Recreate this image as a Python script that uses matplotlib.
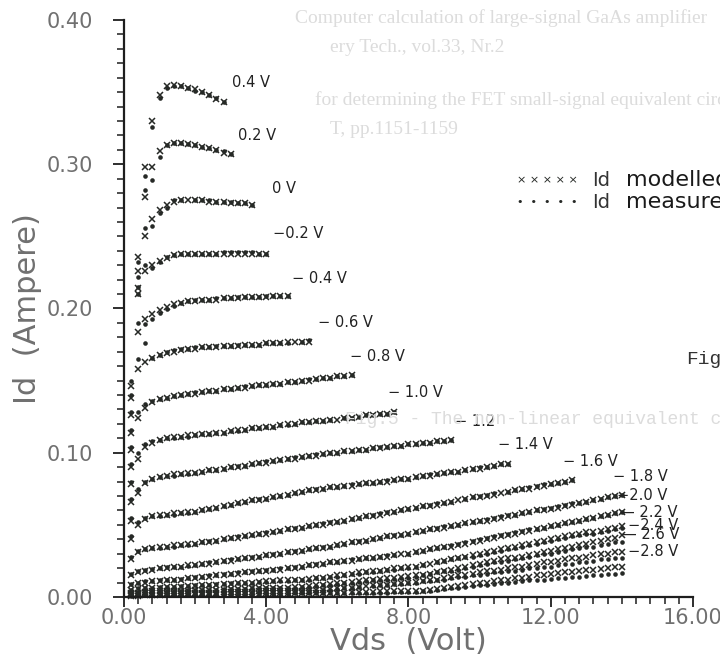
import numpy as np
import matplotlib
matplotlib.use("Agg")
import matplotlib.pyplot as plt
from matplotlib.ticker import MultipleLocator, FormatStrFormatter

nan = float("nan")

# --- drain voltage grid (Volt) ---
VDS = [0.2, 0.4, 0.6, 0.8, 1.0, 1.2, 1.4, 1.6, 1.8, 2.0,
       2.2, 2.4, 2.6, 2.8, 3.0, 3.2, 3.4, 3.6, 3.8, 4.0,
       4.2, 4.4, 4.6, 4.8, 5.0, 5.2, 5.4, 5.6, 5.8, 6.0,
       6.2, 6.4, 6.6, 6.8, 7.0, 7.2, 7.4, 7.6, 7.8, 8.0,
       8.2, 8.4, 8.6, 8.8, 9.0, 9.2, 9.4, 9.6, 9.8, 10.0,
       10.2, 10.4, 10.6, 10.8, 11.0, 11.2, 11.4, 11.6, 11.8, 12.0,
       12.2, 12.4, 12.6, 12.8, 13.0, 13.2, 13.4, 13.6, 13.8, 14.0, 14.2]

# --- Id in mA, one list per gate voltage (measured / modelled) ---
meas_p04 = [150, 232, 292, 326, 346, 353, 354, 354, 353, 351, 350, 348, 346, 343]
model_p04 = [146, 236, 298, 330, 348, 354, 355, 354, 353, 352, 350, 348, 345, 343]

meas_p02 = [140, 222, 282, 289, 305, 313, 315, 315, 314, 313, 312, 311, 310, 309, 307]
model_p02 = [138, 226, 277, 298, 309, 313, 315, 315, 314, 313, 312, 311, 310, 308, 307]

meas_0 = [128, 210, 256, 257, 266, 270, 275, 275, nan, 275, 275, 275, 274, 274, 274, 273, 273, 272]
model_0 = [126, 214, 250, 262, 268, 272, 274, 275, 275, 275, 275, 274, 274, 274, 273, 273, 273, 272]

meas_m02 = [116, 215, 230, 228, 232, 236, 237, 238, 238, 238, 238, 238, 238, 239, 239, 239, 239, 239, 238, 238]
model_m02 = [114, 210, 226, 230, 233, 235, 237, 238, 238, 238, 238, 238, 238, 238, 238, 238, 238, 238, 238, 238]

meas_m04 = [104, 190, 189, 193, 197, 200, 202, 204, 205, 206, 206, 206, 207, 207, 207, 208, 208, 208, 208,
            209, 209, 209, 209]
model_m04 = [102, 184, 193, 196, 199, 201, 203, 204, 205, 205, 206, 206, 206, 207, 207, 207, 208, 208, 208,
             208, 209, 209, 209]

meas_m06 = [92, 165, 176, 166, 168, 170, 171, 172, 172, 173, 173, 173, 174, 174, 174, 175, 175, 175, 175,
            176, 176, 176, 176, nan, 177, 178]
model_m06 = [90, 158, 163, 166, 168, 169, 170, 171, 172, 172, 173, 173, 173, 174, 174, 174, 175, 175, 175,
             176, 176, 176, 177, 177, 177, 177]

meas_m08 = [80, 128, 134, 136, 137, 138, 139, 140, 141,
            142, 142, 143, 143, 144, 144, 145, 146, 146, 147, 147, 148, 148, 149, 149, 150, 151,
            151, 152, 152, 153, 153, 154]
model_m08 = [78, 124, 131, 135, 137, 138, 139, 140, 141,
             141, 142, 143, 143, 144, 144, 145, 145, 146, 147, 147, 148, 148, 149, 149, 150, 150,
             151, 152, 152, 153, 153, 154]

meas_m10 = [68, 100, 106, 108, 109, 110, 110, 111, 111,
            112, 113, 113, 114, 114, 115, 115, 116, 117, 117, 118, 118, 119, 119, 120, 121, 121,
            122, 122, 123, nan, 124, 124, 125, 126, 126, 127, 127, 128]
model_m10 = [66, 96, 104, 107, 109, 110, 111, 111, 112,
             112, 113, 113, 114, 114, 115, 116, 116, 117, 117, 118, 118, 119, 120, 120, 121, 121,
             122, 122, 123, 123, 124, 124, 125, 126, 126, 127, 127, 128]

meas_m12 = [55, 75, 80, 82, 83, 84, 84, 85, 85,
            86, 87, 88, 88, 89, 90, 91, 91, 92, 93, 94, 94, 95, 96, 97, 97, 98,
            99, 99, 100, 100, 101, 101, 102, 102, 103, 104, 104, 105, 105, 106, 106,
            107, 107, 108, 108, 109]
model_m12 = [53, 72, 79, 82, 83, 84, 85, 85, 86,
             86, 87, 88, 88, 89, 90, 90, 91, 92, 93, 93, 94, 95, 96, 96, 97, 98,
             98, 99, 100, 100, 101, 101, 102, 102, 103, 103, 104, 105, 105, 106, 106,
             107, 107, 108, 108, 109]

meas_m14 = [42, 52, 55, 56, 56, 57, 57, 58, 58,
            59, 60, 61, 62, 63, 64, 65, 66, 67, 68, 68, 69, 70, 71, 72, 73, 74,
            75, 75, 76, 76, 77, 78, 78, 79, 79, 80, 81, 81, 82, 82, 83,
            84, 85, 85, 86, 87, 87, 88, 89, 90, 90, 91, 92, 92]
model_m14 = [40, 50, 54, 56, 57, 57, 58, 58, 59,
             59, 60, 61, 62, 63, 64, 65, 66, 67, 67, 68, 69, 70, 71, 72, 73, 74,
             74, 75, 76, 76, 77, 77, 78, 79, 79, 80, 80, 81, 82, 82, 83,
             84, 84, 85, 86, 87, 87, 88, 89, 89, 90, 91, 92, 92]

meas_m16 = [28, 32, 33, 34, 34, 35, 35, 36, 36,
            37, 38, 39, 39, 40, 41, 42, 42, 43, 44, 45, 45, 46, 47, 48, 48, 49,
            50, 51, 52, 52, 53, 54, 55, 56, 57, 58, 59, 59, 60, 61, 62,
            63, 64, 65, 65, 66, nan, 68, 69, 70, 71, 72, nan, 73, 74, 75, 76, 77, 78, 78, 79, 80, 81]
model_m16 = [26, 31, 33, 34, 35, 35, 36, 36, 37,
             37, 38, 38, 39, 40, 41, 41, 42, 43, 44, 44, 45, 46, 47, 47, 48, 49,
             50, 50, 51, 52, 53, 54, 55, 56, 56, 57, 58, 59, 60, 61, 62,
             63, 63, 64, 65, 66, 67, 68, 69, 69, 70, 71, 72, 73, 74, 75, 75, 76, 77, 78, 79, 80, 81]

meas_m18 = [16, 18, 19, 19.5, 20, 20.5, 21, 21, 21.5,
            22, 23, 24, 24, 25, 26, 26, 27, 28, 28, 29, 30, 30, 31, 32, 32, 33,
            34, 35, 35, 36, 37, 38, 39, 39, 40, 41, 42, 43, 43, 44, 45,
            46, 47, 48, 49, 49, 50, 51, 52, 53, 54, 55, 56, 57, 57, 58,
            59, 60, 61, 62, 63, 64, 65, 65, 66, 67, 68, 69, 70, 71]
model_m18 = [15, 17, 18, 19, 20, 20, 21, 21, 22,
             22, 23, 23, 24, 25, 25, 26, 27, 27, 28, 29, 29, 30, 31, 31, 32, 33,
             34, 34, 35, 36, 37, 38, 38, 39, 40, 41, 42, 42, 43, 44, 45,
             46, 47, 47, 48, 49, 50, 51, 52, 53, 53, 54, 55, 56, 57, 58,
             59, 60, 60, 61, 62, 63, 64, 65, 66, 67, 68, 69, 70, 71]

meas_m20 = [9, 10, 11, 11, 11.5, 12, 12, 12.5, 13,
            14, 14, 15, 15, 16, 16, 17, 17, 18, 18, 19, 19, 20, 20, 21, 21, 22,
            23, 23, 24, 24, 25, 26, 26, 27, 27, 28, 29, 29, nan, 30, 31,
            32, 33, 34, 35, 36, 37, 38, 39, 40, 41, 42, 43, 44, 45, 46,
            47, 47, 48, 49, 50, 51, 52, 53, 54, 55, 56, 57, 58, 59]
model_m20 = [8, 10, 10, 11, 11, 12, 12, 12, 13,
             13, 14, 14, 15, 15, 16, 16, 17, 17, 18, 18, 19, 19, 20, 20, 21, 22,
             22, 23, 24, 24, 25, 25, 26, 27, 27, 28, 28, 29, 30, 30, 31,
             32, 33, 34, 35, 35, 36, 37, 38, 39, 40, 41, 42, 43, 44, 45,
             46, 47, 48, 49, 50, 51, 52, 53, 54, 55, 56, 57, 58, 59]

meas_m22 = [5, 6, 6, 6.5, 7, 7, 7, 7.5, 7.5,
            8, 8, 8.5, 9, 9, 9.5, 9.5, 10, 10, 10.5, 10.5, 11, 11, 11, 11.5, 11.5, 12,
            13, 13, 14, 14, 15, 16, 16, 17, 17, 18, 19, 19, 20, 20, 21,
            22, nan, 24, 25, 26, 27, 28, 28, 29, 30, 31, 32, 33, 34, 35,
            36, 37, 38, 39, 40, 41, 42, 43, 44, 44, 45, 46, 47, 48]
model_m22 = [5, 5.5, 6, 6, 6.5, 7, 7, 7, 7.5,
             7.5, 8, 8, 8.5, 9, 9, 9.5, 10, 10, 10.5, 11, 11, 11.5, 11.5, 12, 12, 12.5,
             13, 13.5, 14, 15, 15, 16, 17, 17, 18, 18, 19, 20, 20, 21, 21,
             22, 23, 24, 25, 26, 27, 28, 29, 30, 31, 32, 33, 34, 35, 36,
             37, 38, 39, 40, 41, 42, 43, 44, 45, 45, 46, 47, 48, 49]

meas_m24 = [3, 3.5, 4, 4, 4, 4.5, 4.5, 4.5, 5,
            5, 5, 5, 5, 5.5, 5.5, 5.5, 5.5, 6, 6, 6, 6, 6.5, 6.5, 6.5, 7, 7,
            7.5, 8, 8.5, 9, 9.5, 10, 10.5, 11, 11.5, 12, 12, 12.5, 13, 13.5, 14,
            15, 16, 17, 18, 18, 19, 20, 21, 22, 23, 24, 24, 25, 26, 27,
            28, 29, 30, 30, 31, 32, 33, 34, 35, 35, 36, 37, 38, 38]
model_m24 = [3, 3, 3.5, 4, 4, 4, 4.5, 4.5, 4.5,
             5, 5, 5, 5, 5, 5.5, 5.5, 5.5, 6, 6, 6, 6, 6.5, 6.5, 7, 7, 7.5,
             8, 8.5, 9, 9.5, 10, 10.5, 11, 11.5, 12, 12.5, 13, 13.5, 14, 14.5, 15,
             15, 16, 17, 18, 19, 20, 21, 22, 23, 24, 25, 26, 27, 27, 28,
             29, 30, 31, 32, 33, 34, 35, 36, 37, 38, 39, 40, 41, 43]

meas_m26 = [2, 2.5, 2.5, 3, 3, 3, 3, 3, 3,
            3, 3, 3, 3, 3, 3.5, 3.5, 3.5, 3.5, 3.5, 3.5, 4, 4, 4, 4, 4, 4,
            4.5, 5, 5, 5.5, 6, 6.5, 7, nan, 7.5, 8, 8.5, 9, 9, 9.5, 10,
            11, 11, 12, 12, 13, 14, 14, 15, 15, 16, 17, 17, 18, 18, 19,
            20, 20, 21, 21, 22, 23, 23, 24, 24, 25, 26, 26, 27, 27]
model_m26 = [2, 2, 2.5, 2.5, 3, 3, 3, 3, 3,
             3, 3, 3, 3, 3.5, 3.5, 3.5, 3.5, 3.5, 4, 4, 4, 4, 4, 4.5, 4.5, 4.5,
             5, 5, 5.5, 6, 6, 6.5, 7, 7.5, 8, 8, 8.5, 9, 9.5, 10, 10.5,
             11, 12, 12, 13, 14, 15, 15, 16, 17, 18, 18, 19, 20, 21, 21,
             22, 23, 24, 24, 25, 26, 27, 27, 28, 29, 30, 30, 31, 31]

meas_m28 = [1, 1.5, 1.5, 1.5, 2, 2, 2, 2, 2,
            2, 2, 2, 2, 2, 2, 2, 2, 2, 2, 2, 2, 2, 2, 2.5, 2.5, 2.5,
            2.5, 2.5, 2.5, 2.5, 3, 3, 3, 3, 3, 3, 3, 3.5, 3.5, 3.5, 3.5,
            4, 4.5, 5, 5.5, 6, 6.5, 7, 7.5, 8, 8.5, 9, 9.5, 10, 10.5, 11,
            11.5, 12, 12, 12.5, 13, 13.5, 14, 14, 14.5, 15, 15.5, 16, 16, 16.5]
model_m28 = [1, 1, 1.5, 1.5, 1.5, 2, 2, 2, 2,
             2, 2, 2, 2, 2, 2, 2, 2, 2, 2, 2.5, 2.5, 2.5, 2.5, 2.5, 2.5, 3,
             3, 3, 3, 3, 3, 3.5, 3.5, 3.5, 3.5, 4, 4, 4, 4, 4, 4,
             4, 5, 5.5, 6, 7, 7.5, 8, 9, 9.5, 10, 11, 11.5, 12, 13, 13.5,
             14, 15, 15.5, 16, 16.5, 17, 17.5, 18, 18.5, 19, 19.5, 20, 20.5, 21]

curve_labels = ["0.4 V", "0.2 V", "0 V", "\u22120.2 V", "\u2212 0.4 V", "\u2212 0.6 V",
                "\u2212 0.8 V", "\u2212 1.0 V", "\u2212 1.2", "\u2212 1.4 V", "\u2212 1.6 V",
                "\u2212 1.8 V", "\u22122.0 V", "\u2014 2.2 V", "\u22122.4 V", "\u2014 2.6 V",
                "\u22122.8 V"]

measured = [meas_p04, meas_p02, meas_0, meas_m02, meas_m04, meas_m06, meas_m08, meas_m10,
            meas_m12, meas_m14, meas_m16, meas_m18, meas_m20, meas_m22, meas_m24, meas_m26,
            meas_m28]
modelled = [model_p04, model_p02, model_0, model_m02, model_m04, model_m06, model_m08, model_m10,
            model_m12, model_m14, model_m16, model_m18, model_m20, model_m22, model_m24, model_m26,
            model_m28]

# label anchor points (Vds, Id) next to the end of each curve
label_pos = [(3.04, 0.357), (3.21, 0.320), (4.16, 0.2835), (4.19, 0.2523), (4.72, 0.2211),
             (5.46, 0.190), (6.36, 0.167), (7.42, 0.142), (9.31, 0.122), (10.52, 0.1054),
             (12.35, 0.0936), (13.75, 0.0832), (13.86, 0.0707), (13.95, 0.0589),
             (14.17, 0.0499), (14.0, 0.043), (14.17, 0.0312)]

ink = "#262926"
grey = "#707070"

fig = plt.figure(figsize=(7.2, 6.68), dpi=100)
ax = fig.add_axes([124 / 720, 1 - 597 / 668, (693 - 124) / 720, (597 - 20) / 668])

# faint show-through of the other side of the page
faint = "#dcdcdc"
fig.text(295 / 720, 1 - 18 / 668, "Computer calculation of large-signal GaAs amplifier",
         family="Liberation Serif", fontsize=14, color=faint, va="center", zorder=0)
fig.text(330 / 720, 1 - 47 / 668, "ery Tech., vol.33, Nr.2",
         family="Liberation Serif", fontsize=14, color=faint, va="center", zorder=0)
fig.text(315 / 720, 1 - 100 / 668, "for determining the FET small-signal equivalent circuit,",
         family="Liberation Serif", fontsize=14, color=faint, va="center", zorder=0)
fig.text(330 / 720, 1 - 130 / 668, "T, pp.1151-1159",
         family="Liberation Serif", fontsize=14, color=faint, va="center", zorder=0)
fig.text(345 / 720, 1 - 420 / 668, "Fig.5 - The non-linear equivalent circuit",
         family="Liberation Mono", fontsize=13, color=faint, va="center", zorder=0)

for i in range(len(measured)):
    n = len(measured[i])
    v = np.array(VDS[:n])
    ax.plot(v, np.array(measured[i]) / 1000, "o", ms=3.3, color=ink, mew=0, clip_on=False)
    ax.plot(v, np.array(modelled[i]) / 1000, "x", ms=4.0, color=ink, mew=1.1, clip_on=False)
    lx, ly = label_pos[i]
    ax.text(lx, ly, curve_labels[i], fontsize=10.5, color="#222222", va="center", ha="left")

ax.set_xlim(0, 16)
ax.set_ylim(0, 0.40)
ax.xaxis.set_major_locator(MultipleLocator(4))
ax.xaxis.set_minor_locator(MultipleLocator(0.4))
ax.yaxis.set_major_locator(MultipleLocator(0.1))
ax.yaxis.set_minor_locator(MultipleLocator(0.01))
ax.xaxis.set_major_formatter(FormatStrFormatter("%.2f"))
ax.yaxis.set_major_formatter(FormatStrFormatter("%.2f"))

for s in ["top", "right"]:
    ax.spines[s].set_visible(False)
for s in ["left", "bottom"]:
    ax.spines[s].set_linewidth(1.6)
    ax.spines[s].set_color("#1e1e1e")

ax.tick_params(which="major", direction="out", length=8, width=1.3, color="#1e1e1e",
               labelsize=15, labelcolor=grey)
ax.tick_params(which="minor", direction="out", length=5, width=1.1, color="#1e1e1e")
ax.tick_params(axis="y", which="major", pad=14)
ax.tick_params(axis="x", which="major", length=7, pad=1)

ax.set_xlabel("Vds  (Volt)", fontsize=22, color=grey, labelpad=-1)
ax.set_ylabel("Id  (Ampere)", fontsize=22, color=grey, labelpad=4)

# hand-written legend
fig.text(517 / 720, 1 - 180 / 668, "\u00d7 \u00d7 \u00d7 \u00d7 \u00d7", fontsize=8,
         color=ink, va="center")
fig.text(517 / 720, 1 - 202 / 668, "\u2022  \u2022  \u2022  \u2022  \u2022", fontsize=8,
         color=ink, va="center")
fig.text(592 / 720, 1 - 180 / 668, "Id", fontsize=14, color="#333333", va="center")
fig.text(592 / 720, 1 - 202 / 668, "Id", fontsize=14, color="#333333", va="center")
fig.text(626 / 720, 1 - 180 / 668, "modelled", fontsize=16, color="#1a1a1a", va="center")
fig.text(626 / 720, 1 - 202 / 668, "measured", fontsize=16, color="#1a1a1a", va="center")

fig.text(686 / 720, 1 - 360 / 668, "Fig.5", family="Liberation Mono", fontsize=14,
         color="#333333", va="center")

fig.savefig("out.png", dpi=100, facecolor="white")
